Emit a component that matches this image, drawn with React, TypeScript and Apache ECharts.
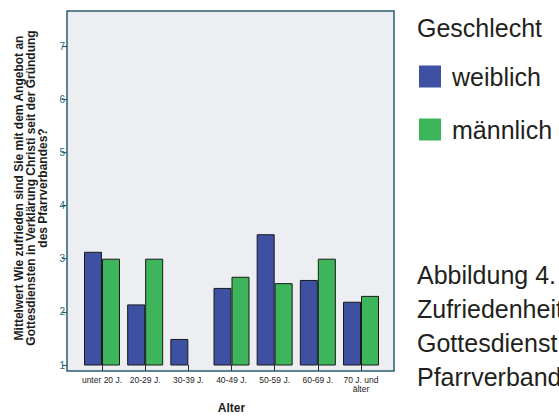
import React, { useEffect, useRef } from "react";
import * as echarts from "echarts";

const categories = ["unter 20 J.", "20-29 J.", "30-39 J.", "40-49 J.", "50-59 J.", "60-69 J.", "70 J. und\nälter"];
const weiblich = [3.13, 2.14, 1.49, 2.45, 3.46, 2.6, 2.19];
const maennlich: (number | null)[] = [3.0, 3.0, null, 2.66, 2.54, 3.0, 2.3];
const yTicks = [1, 2, 3, 4, 5, 6, 7];
const seriesNames = ["weiblich", "männlich"];
const legendTitle = "Geschlecht";
const yTitle = "Mittelwert Wie zufrieden sind Sie mit dem Angebot an\nGottesdiensten in Verklärung Christi seit der Gründung\ndes Pfarrverbandes?";
const xTitle = "Alter";
const captionLines = ["Abbildung 4.", "Zufriedenheit", "Gottesdienst", "Pfarrverband"];

const BLUE = "#3e50a2";
const GREEN = "#3cb55b";
const FRAME = "#2a5e6e";
const FONT = "'Liberation Sans', Arial, Helvetica, sans-serif";

export default function App() {
  const ref = useRef<HTMLDivElement>(null);
  useEffect(() => {
    if (!ref.current) return;
    const chart = echarts.init(ref.current, undefined, { renderer: "svg" });
    const caption = captionLines.map((t, i) => ({
      type: "text",
      x: 417,
      y: 275 + i * 34,
      z: 10,
      style: { text: t, fill: "#231f20", font: `25px ${FONT}`, verticalAlign: "middle", align: "left" },
    }));
    chart.setOption({
      animation: false,
      textStyle: { fontFamily: FONT },
      graphic: [
        { type: "rect", z: -1, shape: { x: 67, y: 11, width: 327, height: 360 }, style: { fill: "#eceef1", stroke: "none" } },
        { type: "rect", z: 100, shape: { x: 67, y: 11, width: 327, height: 360 }, style: { fill: "none", stroke: FRAME, lineWidth: 1.5 } },
        {
          type: "text", x: 417, y: 27.5, z: 10,
          style: { text: legendTitle, fill: "#231f20", font: `25px ${FONT}`, verticalAlign: "middle", align: "left" },
        },
        ...caption,
      ],
      legend: {
        orient: "vertical",
        left: 419,
        top: 64,
        padding: 0,
        itemWidth: 22,
        itemHeight: 22,
        itemGap: 28,
        icon: "rect",
        itemStyle: { borderWidth: 0 },
        textStyle: { fontSize: 25, color: "#231f20", padding: [0, 0, 0, 6], lineHeight: 22 },
        data: seriesNames,
      },
      grid: { left: 80.4, width: 302.2, top: 11, height: 360 },
      xAxis: {
        type: "category",
        data: categories,
        axisLine: { show: false },
        axisTick: { show: true, alignWithLabel: true, length: 6, lineStyle: { color: "#1d2a33", width: 1 } },
        axisLabel: { fontSize: 8.5, color: "#1d1d1d", margin: 10, lineHeight: 9.5, interval: 0 },
        name: xTitle,
        nameLocation: "middle",
        nameGap: 37,
        nameTextStyle: { fontSize: 12, fontWeight: "bold", color: "#1d1d1d" },
      },
      yAxis: {
        type: "value",
        min: 1,
        max: 7.66,
        offset: 13.4,
        splitLine: { show: false },
        axisLine: { show: false },
        axisTick: { show: true, length: 5, customValues: yTicks, lineStyle: { color: FRAME, width: 1.2 } },
        axisLabel: { fontSize: 10, color: "#2e6a7a", margin: 2, customValues: yTicks },
        name: yTitle,
        nameLocation: "middle",
        nameGap: 18,
        nameTextStyle: { fontSize: 12, fontWeight: "bold", color: "#1d1d1d", lineHeight: 12 },
      },
      series: [
        {
          name: seriesNames[0], type: "bar", data: weiblich, barWidth: 18, barGap: "0%", z: 3,
          itemStyle: { color: BLUE, borderColor: "#1a1a1a", borderWidth: 1 },
        },
        {
          name: seriesNames[1], type: "bar", data: maennlich, barWidth: 18, barGap: "0%", z: 3,
          itemStyle: { color: GREEN, borderColor: "#1a1a1a", borderWidth: 1 },
        },
      ],
    });
    return () => chart.dispose();
  }, []);
  return <div ref={ref} style={{ position: "absolute", left: 0, top: 0, width: 559, height: 419 }} />;
}
